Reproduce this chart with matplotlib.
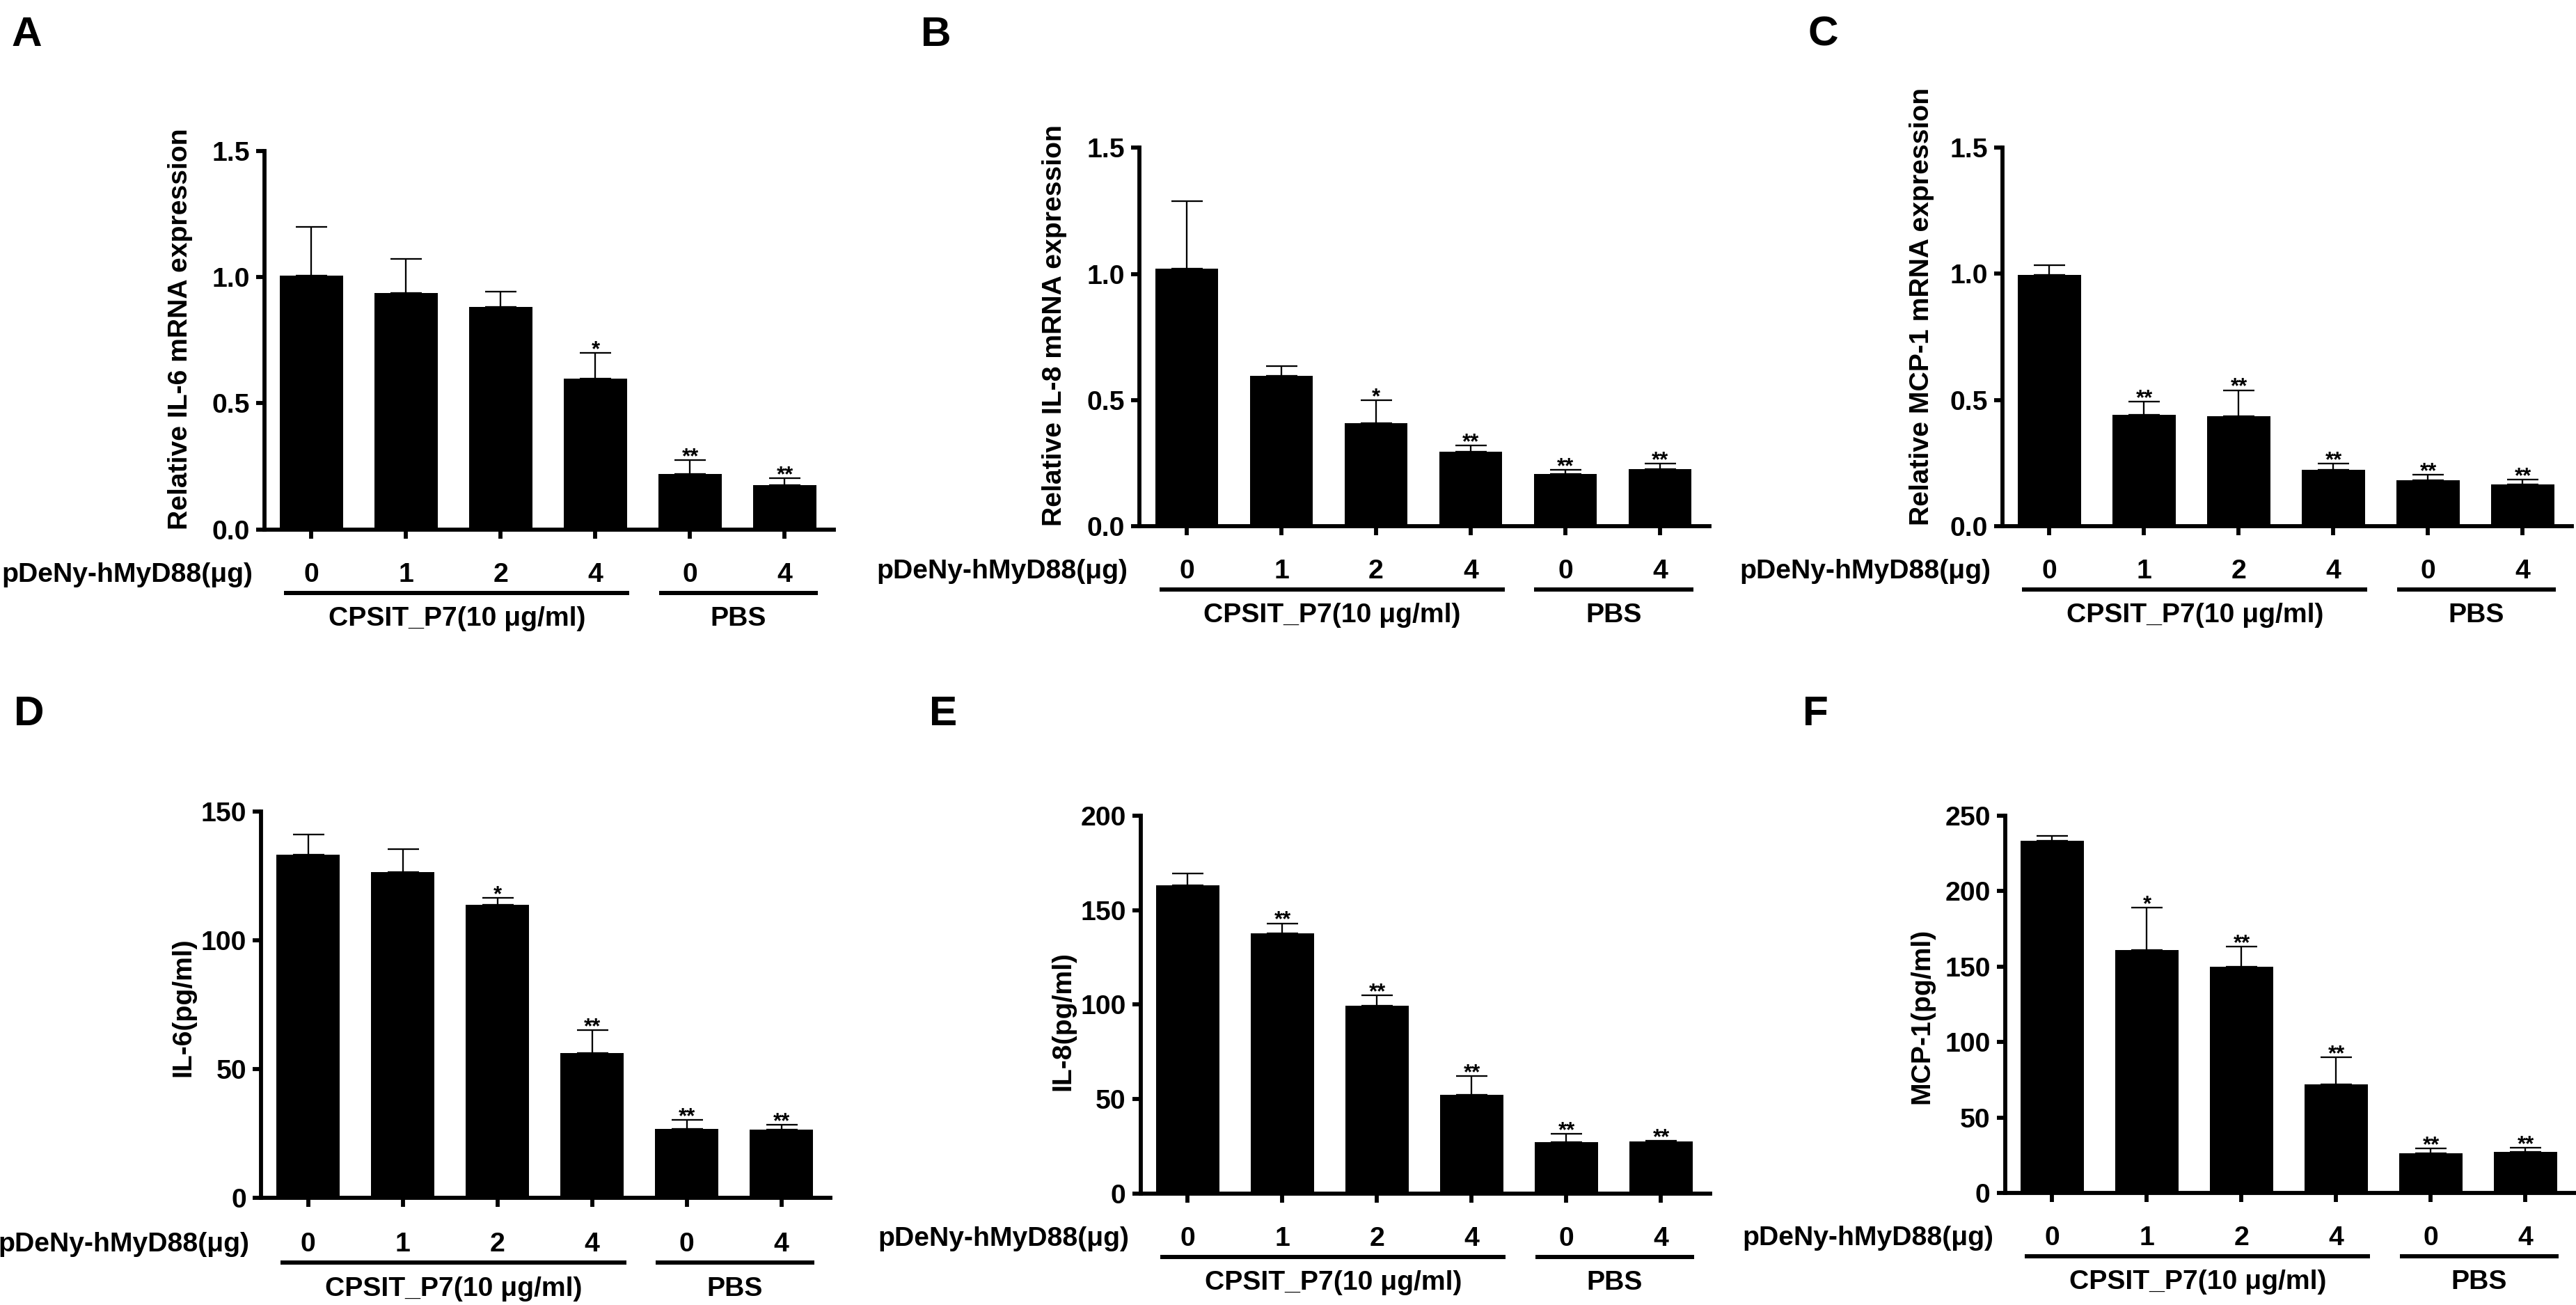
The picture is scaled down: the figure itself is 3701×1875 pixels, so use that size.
import matplotlib
matplotlib.use("Agg")
import matplotlib.pyplot as plt
import matplotlib.transforms as mtransforms
import numpy as np

plt.rcParams['font.family'] = ['Liberation Sans', 'DejaVu Sans']
plt.rcParams['font.weight'] = 'bold'

# ---------------- data ----------------
doses = ["0", "1", "2", "4", "0", "4"]
group_labels = ["CPSIT_P7(10 μg/ml)", "PBS"]
row_label = "pDeNy-hMyD88(μg)"

il6_mrna = [1.007, 0.938, 0.881, 0.597, 0.220, 0.176]
il6_mrna_err = [0.192, 0.134, 0.062, 0.103, 0.054, 0.027]
il6_mrna_sig = ["", "", "", "*", "**", "**"]

il8_mrna = [1.022, 0.596, 0.409, 0.296, 0.2075, 0.2265]
il8_mrna_err = [0.266, 0.038, 0.090, 0.024, 0.016, 0.021]
il8_mrna_sig = ["", "", "*", "**", "**", "**"]

mcp1_mrna = [0.996, 0.442, 0.437, 0.223, 0.182, 0.165]
mcp1_mrna_err = [0.038, 0.051, 0.102, 0.026, 0.021, 0.019]
mcp1_mrna_sig = ["", "**", "**", "**", "**", "**"]

il6_prot = [133.3, 126.6, 113.8, 56.2, 26.7, 26.4]
il6_prot_err = [7.9, 8.8, 2.7, 9.0, 3.6, 2.0]
il6_prot_sig = ["", "", "*", "**", "**", "**"]

il8_prot = [163.1, 137.7, 99.4, 52.2, 27.3, 27.5]
il8_prot_err = [6.2, 5.3, 5.5, 9.9, 4.1, 0.5]
il8_prot_sig = ["", "**", "**", "**", "**", "**"]

mcp1_prot = [233.4, 160.8, 149.9, 72.0, 26.4, 27.2]
mcp1_prot_err = [3.1, 28.4, 13.5, 18.0, 3.1, 2.9]
mcp1_prot_sig = ["", "*", "**", "**", "**", "**"]

ylabels = ["Relative IL-6 mRNA expression", "Relative IL-8 mRNA expression",
           "Relative MCP-1 mRNA expression", "IL-6(pg/ml)", "IL-8(pg/ml)", "MCP-1(pg/ml)"]
letters = ["A", "B", "C", "D", "E", "F"]
yticks_list = [[0, 0.5, 1.0, 1.5], [0, 0.5, 1.0, 1.5], [0, 0.5, 1.0, 1.5],
               [0, 50, 100, 150], [0, 50, 100, 150, 200], [0, 50, 100, 150, 200, 250]]
ytick_fmt = ["{:.1f}", "{:.1f}", "{:.1f}", "{:d}", "{:d}", "{:d}"]

panels = [
    (il6_mrna, il6_mrna_err, il6_mrna_sig),
    (il8_mrna, il8_mrna_err, il8_mrna_sig),
    (mcp1_mrna, mcp1_mrna_err, mcp1_mrna_sig),
    (il6_prot, il6_prot_err, il6_prot_sig),
    (il8_prot, il8_prot_err, il8_prot_sig),
    (mcp1_prot, mcp1_prot_err, mcp1_prot_sig),
]

# ---------------- layout (pixels) ----------------
W, H = 3701, 1875
DPI = 300
fig = plt.figure(figsize=(W / DPI, H / DPI), dpi=DPI)

ax_left = [379.5, 1637, 2876.5, 374.7, 1638.5, 2880.5]
ax_y0 = [760.6, 756, 756, 1721, 1714.7, 1714]
ax_ytop = [217, 212.4, 212, 1166, 1171.8, 1172]
ax_w = 818.7
letter_xy = [(16, 23), (1323, 23), (2597, 23), (20, 999), (1335, 999), (2590, 999)]
ylab_xy = [(259, 473), (1515, 468), (2761, 440), (263, 1447), (1527, 1467), (2761, 1460)]

FS = 9.4
x = np.arange(len(doses))

for i, (vals, errs, sig) in enumerate(panels):
    l = ax_left[i] / W
    b = 1 - ax_y0[i] / H
    h = (ax_y0[i] - ax_ytop[i]) / H
    ax = fig.add_axes([l, b, ax_w / W, h])
    ax.bar(x, vals, width=0.665, color="black", edgecolor="black", linewidth=0, zorder=2)
    ax.errorbar(x, vals, yerr=[np.zeros(len(vals)), errs], fmt="none", ecolor="black",
                elinewidth=0.55, capsize=5.4, capthick=0.55, zorder=1)
    for xi, v, e, s in zip(x, vals, errs, sig):
        if s:
            ax.annotate(s, (xi, v + e), xytext=(0, -1), textcoords="offset points",
                        ha="center", va="baseline", fontsize=7.4, fontweight="bold")
    yt = yticks_list[i]
    ax.set_ylim(0, yt[-1])
    ax.set_xlim(-0.5, 5.52)
    ax.set_yticks(yt)
    ax.set_yticklabels([ytick_fmt[i].format(t) for t in yt], fontsize=FS, fontweight="bold")
    ax.set_xticks(x)
    ax.set_xticklabels([])
    for side in ["top", "right"]:
        ax.spines[side].set_visible(False)
    for side in ["left", "bottom"]:
        ax.spines[side].set_linewidth(1.4)
    ax.tick_params(axis="both", direction="out", length=3.0, width=1.4, pad=2)

    trans = mtransforms.blended_transform_factory(ax.transData, ax.transAxes)
    for xi, d in zip(x, doses):
        ax.text(xi, -0.12, d, transform=trans, ha="center", va="center",
                fontsize=FS, fontweight="bold")
    ax.text(-0.62, -0.12, row_label, transform=trans, ha="right", va="center",
            fontsize=FS, fontweight="bold")
    ax.plot([-0.29, 3.36], [-0.168, -0.168], transform=trans, color="black",
            lw=1.45, clip_on=False, solid_capstyle="butt")
    ax.plot([3.67, 5.35], [-0.168, -0.168], transform=trans, color="black",
            lw=1.45, clip_on=False, solid_capstyle="butt")
    ax.text((-0.29 + 3.36) / 2, -0.236, group_labels[0], transform=trans, ha="center",
            va="center", fontsize=FS, fontweight="bold")
    ax.text((3.67 + 5.35) / 2, -0.236, group_labels[1], transform=trans, ha="center",
            va="center", fontsize=FS, fontweight="bold")

    lx, ly = letter_xy[i]
    fig.text(lx / W, 1 - ly / H, letters[i], ha="left", va="top", fontsize=14.5,
             fontweight="bold")
    yx, yy = ylab_xy[i]
    fig.text(yx / W, 1 - yy / H, ylabels[i], rotation=90, ha="center", va="center",
             fontsize=FS, fontweight="bold")

fig.savefig("out.png", dpi=DPI, facecolor="white")
